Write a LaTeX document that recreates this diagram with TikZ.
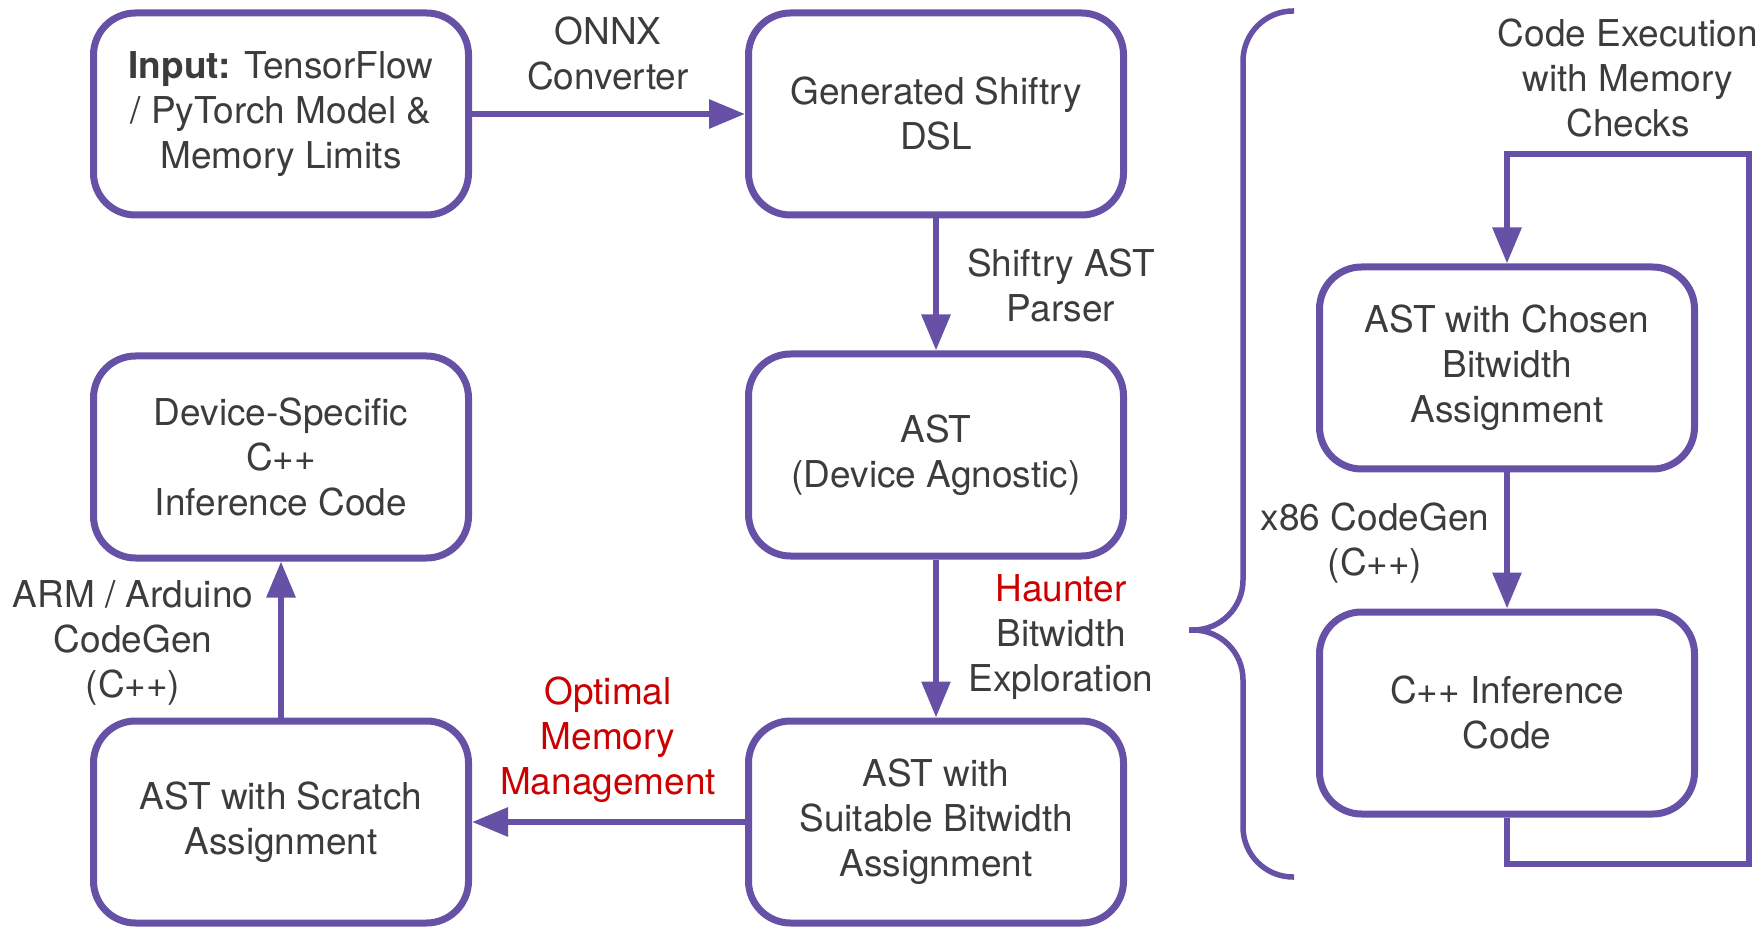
\documentclass[tikz,border=0pt]{standalone}
\usepackage{fontspec}
\setmainfont{TeX Gyre Heros}
\usetikzlibrary{arrows.meta}
\definecolor{shiftpurple}{RGB}{102,81,166}
\definecolor{shifttext}{RGB}{60,60,60}
\definecolor{shiftred}{RGB}{204,0,0}

\begin{document}
\begin{tikzpicture}[x=0.5pt, y=-0.5pt,
	every node/.style={text=shifttext, font=\fontsize{18.5}{22.5}\selectfont, align=center},
	stage/.style={draw=shiftpurple, line width=3.5pt, rounded corners=21pt, minimum width=187.5pt, minimum height=101pt, inner sep=0pt},
	flow/.style={draw=shiftpurple, line width=3pt, -{Triangle[length=18pt,width=14pt]}},
	lbl/.style={inner sep=0pt}]
		\useasboundingbox (0,0) rectangle (1764,929);
		
		%main pipeline
		\node[stage] (inp) at (281,114) {\textbf{Input:} TensorFlow\\/ PyTorch Model \&\\Memory Limits};
		\node[stage] (gen) at (936,114) {Generated Shiftry\\DSL};
		\node[stage] (ast) at (936,455) {AST\\(Device Agnostic)};
		\node[stage] (suit) at (936,822) {AST with\\Suitable Bitwidth\\Assignment};
		\node[stage] (scr) at (281,822) {AST with Scratch\\Assignment};
		\node[stage] (dev) at (281,457) {Device-Specific\\C++\\Inference Code};
		
		\draw[flow] (inp) -- (gen);
		\draw[flow] (gen) -- (ast);
		\draw[flow] (ast) -- (suit);
		\draw[flow] (suit) -- (scr);
		\draw[flow] (scr) -- (dev);
		
		\node[lbl] (onnx) at (608,54) {ONNX\\Converter};
		\node[lbl] (parser) at (1061,285) {Shiftry AST\\Parser};
		\node[lbl] (haunter) at (1061,637) {\textcolor{shiftred}{Haunter}\\Bitwidth\\Exploration};
		\node[lbl, text=shiftred] (memmgmt) at (608,740) {Optimal\\Memory\\Management};
		\node[lbl] (armgen) at (133,643) {ARM / Arduino\\CodeGen\\(C++)};
		
		%exploration loop
		\node[stage] (chosen) at (1507,368) {AST with Chosen\\Bitwidth\\Assignment};
		\node[stage] (cpp) at (1507,713) {C++ Inference\\Code};
		\draw[flow] (chosen) -- (cpp);
		\coordinate (loopbr) at (1749,864);
		\coordinate (looptr) at (1749,154);
		\draw[flow] (cpp.south) |- (loopbr) -- (looptr) -| (chosen.north);
		
		\node[lbl] (x86gen) at (1375,543) {x86 CodeGen\\(C++)};
		\node[lbl] (exec) at (1628,78) {Code Execution\\with Memory\\Checks};
		
		%brace
		\draw[shiftpurple, line width=2.75pt, rounded corners=25pt] (1294,11) -- (1243,11) -- (1243,630) -- (1189,630);
		\draw[shiftpurple, line width=2.75pt, rounded corners=25pt] (1189,630) -- (1243,630) -- (1243,877) -- (1294,877);
\end{tikzpicture}
\end{document}
